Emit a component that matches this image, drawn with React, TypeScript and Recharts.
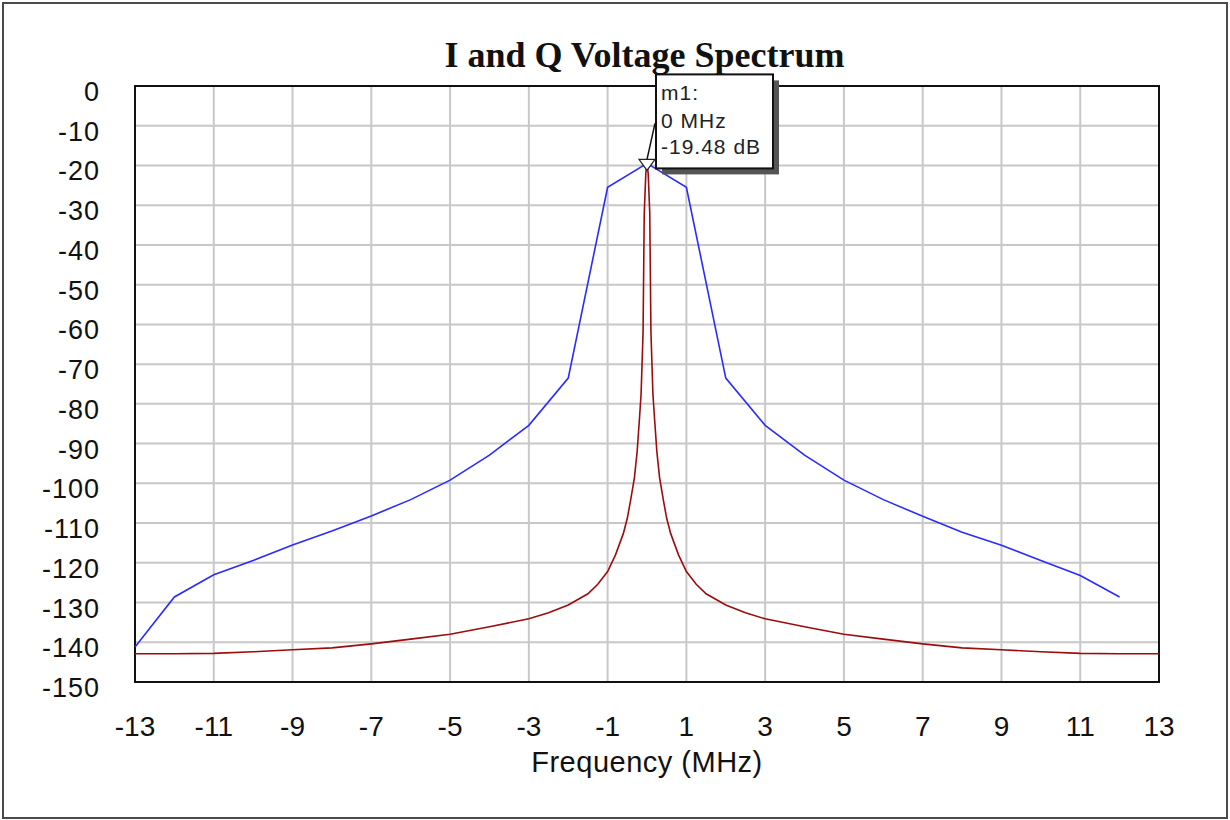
import { LineChart, Line, XAxis, YAxis, CartesianGrid, ReferenceDot, ReferenceArea } from "recharts";

// blue trace (I), sampled every 1 MHz
const blueFreq = [-13, -12, -11, -10, -9, -8, -7, -6, -5, -4, -3, -2, -1, 0, 1, 2, 3, 4, 5, 6, 7, 8, 9, 10, 11, 12];
const blueDb = [-141.2, -128.6, -123.0, -119.4, -115.5, -112.0, -108.2, -104.1, -99.2, -92.9, -85.4, -73.5, -25.5, -19.48, -25.5, -73.5, -85.4, -92.9, -99.2, -104.1, -108.3, -112.3, -115.6, -119.4, -123.2, -128.6];

// red trace (Q), narrow line
const redFreq = [
  -13, -12, -11, -10, -9, -8, -7, -6, -5, -4, -3, -2.5, -2, -1.5, -1.25, -1, -0.8, -0.6, -0.5, -0.42, -0.32, -0.25, -0.19, -0.15, -0.1, -0.07, -0.03,
  0,
  0.03, 0.07, 0.1, 0.15, 0.19, 0.25, 0.32, 0.42, 0.5, 0.6, 0.8, 1, 1.25, 1.5, 2, 2.5, 3, 4, 5, 6, 7, 8, 9, 10, 11, 12, 13,
];
const redDb = [
  -142.9, -142.9, -142.8, -142.4, -141.9, -141.4, -140.4, -139.2, -138.0, -136.1, -134.1, -132.6, -130.6, -127.8, -125.4, -122.2, -118.0, -112.6, -108.8, -104.5, -98.6, -92.0, -83.5, -77.5, -62.0, -32.0, -22.0,
  -19.48,
  -22.0, -32.0, -62.0, -77.5, -83.5, -92.0, -98.6, -104.5, -108.8, -112.6, -118.0, -122.2, -125.4, -127.8, -130.6, -132.6, -134.1, -136.1, -138.0, -139.2, -140.4, -141.4, -141.9, -142.4, -142.8, -142.9, -142.9,
];

const xTicks = [-13, -11, -9, -7, -5, -3, -1, 1, 3, 5, 7, 9, 11, 13];
const yTicks = [0, -10, -20, -30, -40, -50, -60, -70, -80, -90, -100, -110, -120, -130, -140, -150];

const marker = { name: "m1", freq: 0, db: -19.48 };

const blueData = blueFreq.map((f, i) => ({ f, db: blueDb[i] }));
const redData = redFreq.map((f, i) => ({ f, db: redDb[i] }));

const sans = '"Liberation Sans", Arial, sans-serif';

const XTick = ({ x, y, payload }: any) => (
  <text x={x} y={y + 20} textAnchor="middle" fontFamily={sans} fontSize={28} fill="#111">
    {payload.value}
  </text>
);

const YTick = ({ x, y, payload }: any) => (
  <text x={x} y={y + 15} textAnchor="end" fontFamily={sans} fontSize={27} letterSpacing={1} fill="#111">
    {payload.value}
  </text>
);

const MarkerShape = ({ cx, cy }: any) => {
  if (cx == null || cy == null) return null;
  const bx = cx + 9;
  const by = cy - 89;
  const bw = 117;
  const bh = 94;
  return (
    <g>
      <rect x={bx + 6} y={by + 6} width={bw} height={bh} fill="#555" />
      <rect x={bx} y={by} width={bw} height={bh} fill="#fff" stroke="#111" strokeWidth={2} />
      <line x1={cx} y1={cy - 4} x2={cx + 8} y2={cy - 40} stroke="#111" strokeWidth={1.5} />
      <polygon
        points={`${cx - 8},${cy - 4} ${cx + 8},${cy - 4} ${cx},${cy + 7}`}
        fill="#fff"
        stroke="#222"
        strokeWidth={1.2}
      />
      <g fontFamily={sans} fontSize={21} letterSpacing={1} fill="#222">
        <text x={bx + 5} y={by + 26}>{marker.name}:</text>
        <text x={bx + 5} y={by + 54}>{marker.freq} MHz</text>
        <text x={bx + 5} y={by + 80}>{marker.db} dB</text>
      </g>
    </g>
  );
};

export default function App() {
  return (
    <div style={{ position: "absolute", left: 0, top: 0, width: 1230, height: 820, background: "#fff" }}>
      <div
        style={{
          position: "absolute",
          left: 2,
          top: 2,
          width: 1226,
          height: 817,
          boxSizing: "border-box",
          border: "2px solid #4a4a4a",
        }}
      />
      <div
        style={{
          position: "absolute",
          left: 0,
          top: 37,
          width: 1289,
          textAlign: "center",
          fontFamily: '"Liberation Serif", "Times New Roman", serif',
          fontWeight: "bold",
          fontSize: 36,
          lineHeight: "36px",
          color: "#111",
        }}
      >
        I and Q Voltage Spectrum
      </div>
      <LineChart width={1230} height={820} margin={{ top: 86, right: 71, bottom: 0, left: 0 }}>
        <CartesianGrid stroke="#c8c8c8" strokeWidth={2} />
        <XAxis
          dataKey="f"
          type="number"
          domain={[-13, 13]}
          ticks={xTicks}
          allowDataOverflow
          axisLine={false}
          tickLine={false}
          tickSize={0}
          tickMargin={34}
          height={138}
          tick={<XTick />}
          label={{
            value: "Frequency (MHz)",
            position: "insideBottom",
            offset: 48,
            fontFamily: sans,
            fontSize: 29,
            letterSpacing: 0.5,
            fill: "#111",
          }}
        />
        <YAxis
          type="number"
          domain={[-150, 0]}
          ticks={yTicks}
          allowDataOverflow
          axisLine={false}
          tickLine={false}
          tickSize={0}
          tickMargin={35}
          width={135}
          tick={<YTick />}
        />
        <ReferenceArea x1={-13} x2={13} y1={-150} y2={0} fill="none" stroke="#111" strokeWidth={2} />
        <Line
          data={redData}
          dataKey="db"
          type="linear"
          stroke="#9c0c0c"
          strokeWidth={1.6}
          dot={false}
          isAnimationActive={false}
        />
        <Line
          data={blueData}
          dataKey="db"
          type="linear"
          stroke="#2b2bff"
          strokeWidth={1.6}
          dot={false}
          isAnimationActive={false}
        />
        <ReferenceDot x={marker.freq} y={marker.db} shape={<MarkerShape />} />
      </LineChart>
    </div>
  );
}
